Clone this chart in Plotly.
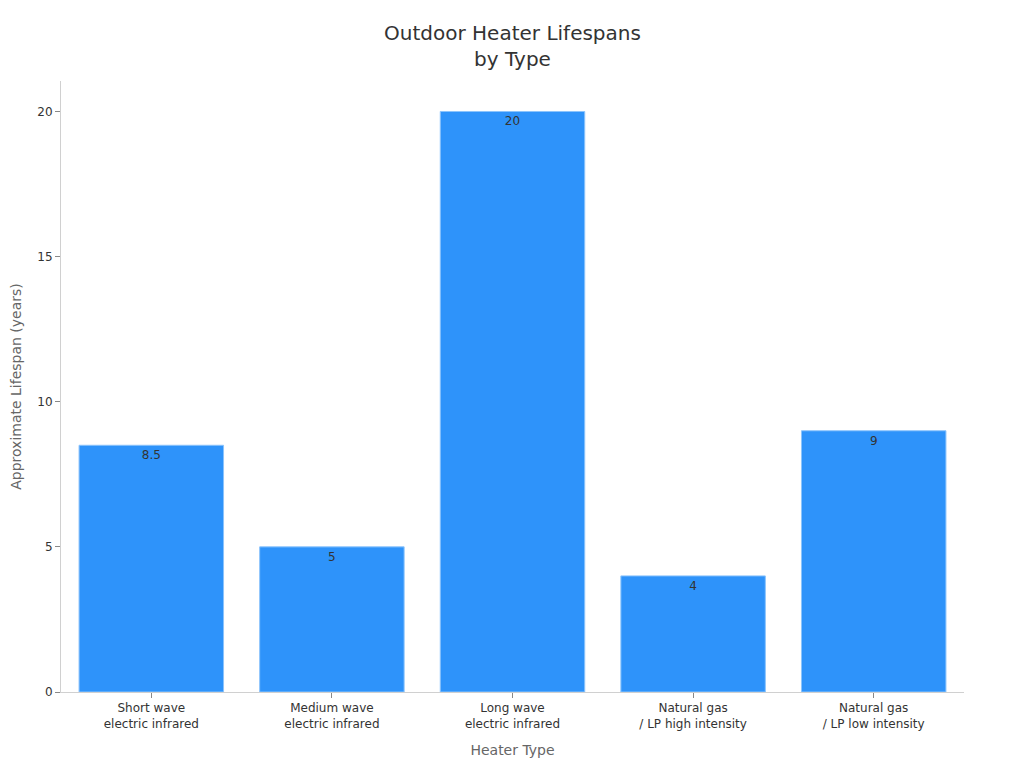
import plotly.graph_objects as go

categories = ["Short wave<br>electric infrared", "Medium wave<br>electric infrared",
              "Long wave<br>electric infrared", "Natural gas<br>/ LP high intensity",
              "Natural gas<br>/ LP low intensity"]
lifespans = [8.5, 5, 20, 4, 9]
labels = ["8.5", "5", "20", "4", "9"]

FONT = "DejaVu Sans, Verdana, sans-serif"

fig = go.Figure(go.Bar(
    x=categories, y=lifespans, text=labels,
    textposition="inside", insidetextanchor="end",
    textfont=dict(family=FONT, size=12, color="#333333"),
    marker=dict(color="#2E93FA", line=dict(color="#8cc4fc", width=1)),
    hoverinfo="x+y",
))

fig.update_layout(
    width=1024, height=768,
    paper_bgcolor="white", plot_bgcolor="white",
    margin=dict(l=53, r=68, t=73, b=84),
    bargap=0.2,
    showlegend=False,
    font=dict(family=FONT, color="#333333"),
    title=dict(text="Outdoor Heater Lifespans<br>by Type", x=0.5, xref="paper", xanchor="center",
               y=0.958, yanchor="top",
               font=dict(family=FONT, size=20, color="#333333")),
    xaxis=dict(
        title=dict(text="Heater Type", font=dict(family=FONT, size=14, color="#666666")),
        automargin=False,
        showline=True, linecolor="#d0d0d0", linewidth=1,
        ticks="outside", tickcolor="#888888", ticklen=5,
        tickfont=dict(family=FONT, size=12, color="#333333"),
        showgrid=False,
    ),
    yaxis=dict(
        title=dict(text="Approximate Lifespan (years)", font=dict(family=FONT, size=14, color="#666666")),
        automargin=False,
        range=[0, 21.05], tickvals=[0, 5, 10, 15, 20],
        showline=True, linecolor="#d0d0d0", linewidth=1,
        ticks="outside", tickcolor="#888888", ticklen=5,
        tickfont=dict(family=FONT, size=12, color="#333333"),
        showgrid=False, zeroline=False,
    ),
)

fig.write_html("out.html")
